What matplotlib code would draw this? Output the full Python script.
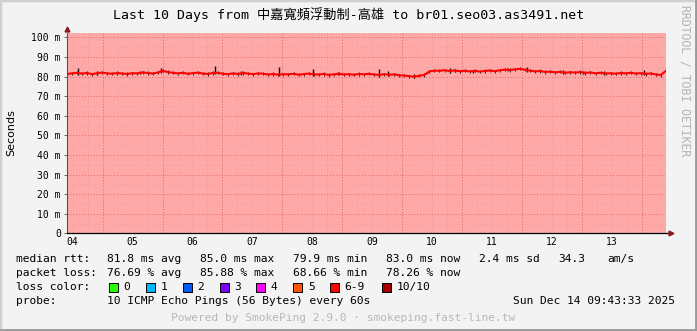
import numpy as np
import matplotlib
matplotlib.use("Agg")
import matplotlib.pyplot as plt
from matplotlib.patches import Rectangle
from matplotlib.lines import Line2D

# time axis: days since Dec 04 00:00, one sample every 2 hours
t_start = 0.405
t_end = 10.405
day_labels = ["04", "05", "06", "07", "08", "09", "10", "11", "12", "13"]

# median rtt in ms
median_ms = [
    81.3, 81.6, 81.9, 81.5, 81.8, 81.2, 81.7, 82.0, 81.6, 81.4,
    81.8, 81.5, 81.3, 81.7, 81.6, 82.1, 81.8, 81.5, 82.0,
    82.9, 82.3, 81.9,
    81.6, 81.9, 81.4, 81.7, 82.0, 81.5, 81.3, 81.8,
    81.9,
    81.4, 81.2, 81.6, 81.3, 81.8, 81.5, 81.2, 81.6, 81.4,
    81.0, 81.3, 80.9, 81.2, 81.1, 81.4, 80.9, 81.2, 81.5, 81.1,
    81.0, 81.3, 80.8, 81.1, 81.4, 81.0, 81.2, 80.9, 81.3, 81.1, 81.4,
    81.0, 80.8, 81.2, 80.9, 81.1, 80.6, 80.5,
    80.2, 79.9, 80.4, 80.8,
    82.6, 83.0, 82.9, 83.2, 82.8, 83.1, 82.7, 82.9,
    82.6, 82.9, 82.5, 82.8, 83.1, 82.7,
    83.2, 83.5, 83.3, 83.7, 83.9, 83.4, 83.0, 82.6,
    82.8, 82.3, 82.5, 82.1, 82.4, 81.9, 82.2, 82.0,
    82.3, 81.8, 82.1, 81.6, 81.9, 81.5, 81.7, 81.4, 81.8, 81.6, 81.9,
    81.5, 81.7, 81.3, 81.6, 81.0, 80.8, 82.9,
]

# smoke spikes: sample index and top of the spike in ms
smoke_idx = [2.2, 6, 14.6, 18.6, 29.4, 34.6, 42.2, 48.8, 53.8, 62, 63.8, 69,
             76, 77, 80.6, 87.6, 91.4, 98.6, 102.6, 106.6, 114.6, 119.4]
smoke_top = [84.1, 82.8, 83.0, 84.5, 85.2, 82.6, 84.9, 83.8, 82.5, 84.0, 83.0, 81.5,
             84.2, 83.8, 83.5, 84.3, 84.6, 83.3, 83.0, 82.9, 83.2, 84.0]

y_ticks = [0, 10, 20, 30, 40, 50, 60, 70, 80, 90, 100]
y_tick_labels = ["0", "10 m", "20 m", "30 m", "40 m", "50 m", "60 m", "70 m", "80 m", "90 m", "100 m"]

loss_labels = ["0", "1", "2", "3", "4", "5", "6-9", "10/10"]
loss_colors = ["#26ff00", "#00b8ff", "#0059ff", "#7e00ff", "#ff00ff", "#ff5500", "#ff0000", "#a10000"]

W, H = 697, 331
MONO = "DejaVu Sans Mono"
TITLE_FONT = ["DejaVu Sans Mono", "Noto Sans CJK TC"]

fig = plt.figure(figsize=(W / 100, H / 100), dpi=100, facecolor="#f3f3f3")


def fx(x):
    return x / W


def fy(y):
    return 1 - y / H


# plot area
ax = fig.add_axes([fx(67), fy(233.3), fx(666 - 67), (233.3 - 33) / H])
ax.set_facecolor("#ffa8a8")
ax.set_xlim(t_start, t_end)
ax.set_ylim(0, 102.2)

# grid lines drawn by hand (midnight major, 6h minor, 10 m major, 5 m minor)
for d in np.arange(0.5, 10.5, 0.25):
    if t_start < d < t_end:
        ax.axvline(d, color="#ec9a9a", lw=0.6, ls=(0, (1, 2)), zorder=1)
for d in range(1, 11):
    ax.axvline(d, color="#e46a6a", lw=0.7, ls=(0, (1, 2)), zorder=1)
for v in range(5, 101, 10):
    ax.axhline(v, color="#ec9a9a", lw=0.6, ls=(0, (1, 2)), zorder=1)
for v in range(10, 101, 10):
    ax.axhline(v, color="#e46a6a", lw=0.7, ls=(0, (1, 2)), zorder=1)

t = np.linspace(t_start, t_end, len(median_ms))
step = (t_end - t_start) / (len(median_ms) - 1)
med = np.array(median_ms)

# smoke
sx = t_start + np.array(smoke_idx) * step
sbase = np.interp(sx, t, med) - 0.8
ax.vlines(sx, sbase, smoke_top, color="#111111", lw=1.0, zorder=2)
ax.vlines(t, med - 0.8, med + 0.8, color="#222222", lw=0.7, zorder=2)

# median line
ax.plot(t, med, color="#ff0000", lw=1.5, zorder=3)

for s in ["top", "right"]:
    ax.spines[s].set_visible(False)
ax.spines["left"].set_color("#555555")
ax.spines["left"].set_linewidth(0.8)
ax.spines["bottom"].set_color("black")
ax.spines["bottom"].set_linewidth(0.9)

ax.set_yticks(y_ticks)
ax.set_yticklabels(y_tick_labels, fontfamily=MONO, fontsize=7)
ax.tick_params(axis="y", length=2.5, width=0.6, color="#555555", pad=2)
ax.set_xticks(np.arange(0.5, 10.5, 1.0))
ax.set_xticklabels(day_labels, fontfamily=MONO, fontsize=7)
ax.tick_params(axis="x", length=0, pad=3)

# axis arrows
fig.add_artist(Line2D([fx(666), fx(670)], [fy(233.3), fy(233.3)], color="black", lw=0.9))
fig.add_artist(Line2D([fx(67)], [fy(29)], marker="^", color="#8b1a1a", markersize=3.5, lw=0))
fig.add_artist(Line2D([fx(671)], [fy(233.3)], marker=">", color="#8b1a1a", markersize=3.5, lw=0))

# texts
fig.text(fx(348.5), fy(15), "Last 10 Days from 中嘉寬頻浮動制-高雄 to br01.seo03.as3491.net",
         ha="center", va="center", fontsize=9.5, family=TITLE_FONT)
fig.text(fx(11), fy(133), "Seconds", rotation=90, ha="center", va="center",
         fontsize=8, family="DejaVu Sans")
fig.text(fx(685), fy(5), "RRDTOOL / TOBI OETIKER", rotation=270, ha="center", va="top",
         fontsize=8.3, family=MONO, color="#b4b4b4")

leg_fs = 8.1
rows = [
    (259.3, [(16, "median rtt:"), (107, "81.8 ms avg"), (200, "85.0 ms max"), (293, "79.9 ms min"),
             (386, "83.0 ms now"), (479, "2.4 ms sd"), (558, "34.3"), (607, "am/s")]),
    (273.3, [(16, "packet loss:"), (107, "76.69 % avg"), (200, "85.88 % max"), (293, "68.66 % min"),
             (386, "78.26 % now")]),
    (287.3, [(16, "loss color:")]),
    (301, [(16, "probe:"), (107, "10 ICMP Echo Pings (56 Bytes) every 60s"),
           (513, "Sun Dec 14 09:43:33 2025")]),
]
for y, items in rows:
    for x, s in items:
        fig.text(fx(x), fy(y), s, ha="left", va="center", fontsize=leg_fs, family=MONO)

box_x = [109, 146, 183, 219.5, 256, 293.3, 330, 381.7]
for bx, lab, col in zip(box_x, loss_labels, loss_colors):
    fig.add_artist(Rectangle((fx(bx), fy(292)), fx(9), 9 / H, facecolor=col,
                             edgecolor="black", lw=0.7))
    fig.text(fx(bx + 14.5), fy(287.3), lab, ha="left", va="center", fontsize=leg_fs, family=MONO)

fig.text(fx(170.7), fy(318.3), "Powered by SmokePing 2.9.0 · smokeping.fast-line.tw",
         ha="left", va="center", fontsize=leg_fs, family=MONO, color="#b8b8b8")

# 3d frame
fig.add_artist(Rectangle((0, 0), 1, 1, fill=False, edgecolor="#d0d0d0", lw=2.5))
fig.add_artist(Line2D([0, 1], [0.002, 0.002], color="#9a9a9a", lw=2))
fig.add_artist(Line2D([0.998, 0.998], [0, 1], color="#9a9a9a", lw=2))

fig.savefig("out.png", dpi=100, facecolor=fig.get_facecolor())
